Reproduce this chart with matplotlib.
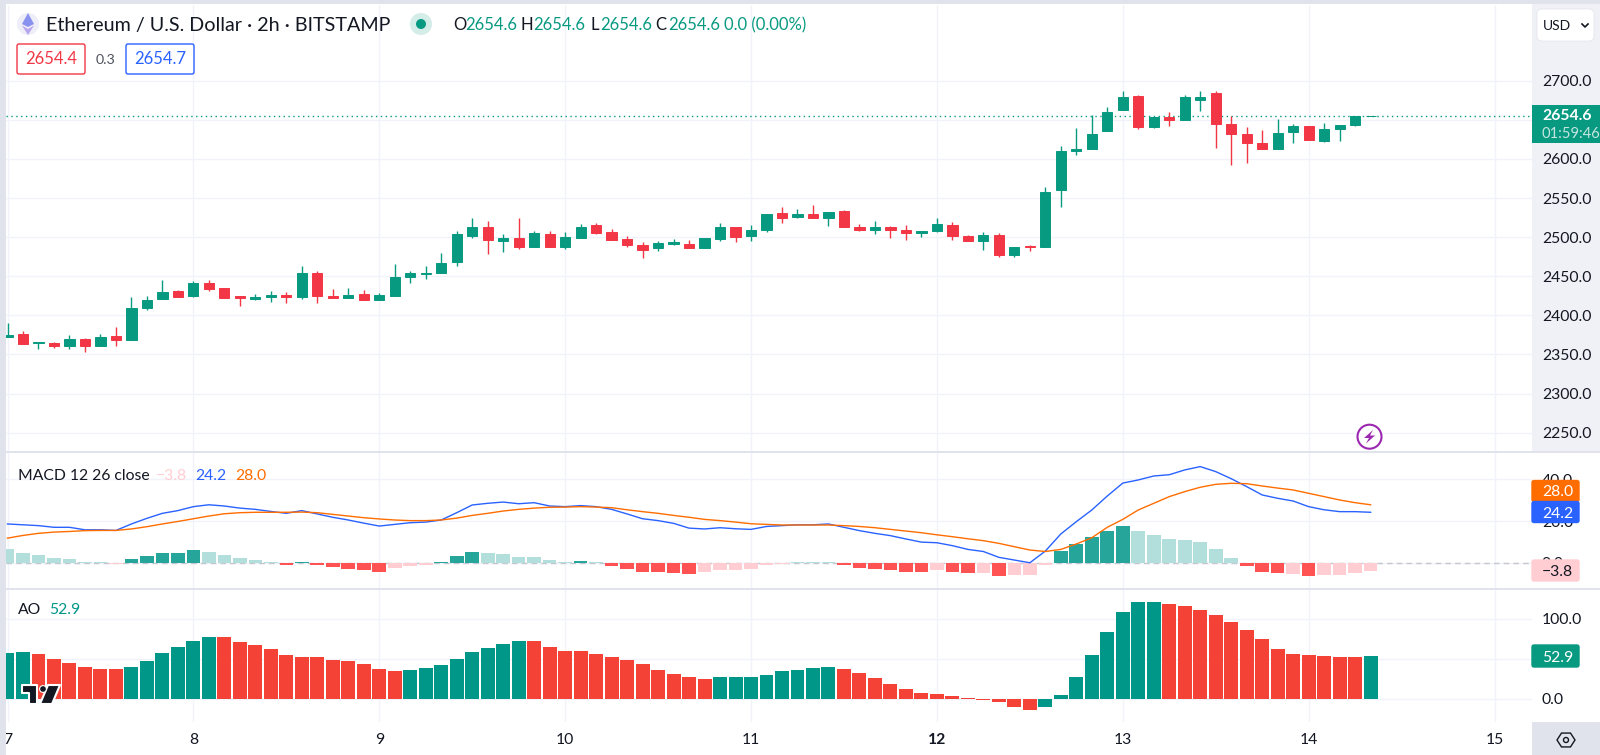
import matplotlib
matplotlib.use("Agg")
import matplotlib.pyplot as plt
import numpy as np
from matplotlib.patches import Rectangle, Circle, Polygon, FancyBboxPatch

W, H = 1600, 755
plt.rcParams["font.family"] = ["Lato", "DejaVu Sans"]

GREEN = "#089981"
RED = "#f23645"
GRID = "#f0f3fa"
BORDER = "#e0e3eb"
TEXT = "#131722"

# ETH/USD 2h candles
opens = [2372.7, 2376.0, 2364.6, 2365.0, 2360.8, 2370.1, 2360.4, 2373.1, 2368.4, 2409.4,
         2420.9, 2431.1, 2424.7, 2440.9, 2434.5, 2424.3, 2420.4, 2423.4, 2425.6, 2423.0,
         2454.1, 2425.1, 2421.7, 2427.3, 2420.0, 2424.7, 2448.6, 2453.3, 2453.7, 2467.8,
         2501.4, 2513.4, 2495.0, 2498.9, 2486.9, 2504.4, 2487.3, 2499.2, 2515.9, 2506.1,
         2497.1, 2489.9, 2485.6, 2491.6, 2491.6, 2485.6, 2498.0, 2512.5, 2501.8, 2509.0,
         2530.4, 2525.7, 2529.5, 2524.4, 2532.9, 2513.3, 2509.5, 2512.5, 2509.0, 2504.8,
         2507.8, 2515.9, 2501.4, 2495.0, 2503.1, 2477.5, 2489.0, 2486.9, 2560.2, 2610.5,
         2613.1, 2635.7, 2663.0, 2680.0, 2641.2, 2653.2, 2649.3, 2675.8, 2683.9, 2644.2,
         2632.3, 2619.9, 2613.1, 2634.0, 2642.5, 2622.5, 2638.2, 2643.4, 2654.6]
highs = [2390.6, 2380.4, 2366.3, 2365.9, 2375.3, 2370.6, 2376.1, 2385.1, 2423.9, 2425.1,
         2444.7, 2432.8, 2443.9, 2444.7, 2434.9, 2424.3, 2427.3, 2430.7, 2429.8, 2463.5,
         2456.3, 2433.2, 2434.5, 2431.9, 2428.5, 2466.0, 2457.1, 2463.0, 2480.1, 2507.4,
         2525.0, 2520.2, 2504.0, 2525.0, 2507.8, 2507.8, 2506.9, 2516.7, 2517.6, 2509.9,
         2501.4, 2494.1, 2495.0, 2498.0, 2495.8, 2498.8, 2517.6, 2512.5, 2515.9, 2529.5,
         2538.5, 2535.9, 2541.0, 2532.1, 2534.6, 2516.7, 2520.6, 2513.7, 2515.0, 2508.2,
         2524.4, 2518.9, 2502.7, 2506.1, 2504.8, 2487.3, 2490.3, 2564.0, 2616.5, 2639.5,
         2655.7, 2666.8, 2686.4, 2681.3, 2653.2, 2660.0, 2682.2, 2687.3, 2687.3, 2654.4,
         2640.4, 2637.0, 2650.6, 2644.2, 2642.5, 2645.5, 2643.4, 2655.3, 2654.6]
lows = [2372.0, 2362.9, 2356.5, 2358.6, 2356.5, 2353.5, 2360.4, 2360.8, 2368.4, 2406.4,
        2420.9, 2423.0, 2423.4, 2431.1, 2422.6, 2411.9, 2420.0, 2417.5, 2416.2, 2421.3,
        2415.3, 2421.7, 2421.7, 2420.0, 2420.0, 2424.7, 2441.8, 2446.4, 2453.7, 2462.6,
        2498.9, 2478.0, 2480.5, 2485.2, 2486.9, 2486.9, 2485.2, 2499.2, 2503.9, 2496.7,
        2487.7, 2473.9, 2482.6, 2489.9, 2486.0, 2485.6, 2494.6, 2493.7, 2494.6, 2506.5,
        2517.6, 2524.0, 2524.8, 2514.6, 2512.9, 2507.3, 2503.5, 2499.2, 2496.3, 2499.7,
        2506.9, 2495.8, 2495.0, 2483.9, 2474.1, 2474.5, 2482.2, 2486.9, 2538.1, 2605.4,
        2613.1, 2635.7, 2663.0, 2638.2, 2639.5, 2642.1, 2649.3, 2661.7, 2613.9, 2592.2,
        2595.2, 2612.7, 2613.1, 2620.8, 2624.2, 2621.2, 2622.5, 2642.1, 2654.6]
closes = [2375.3, 2363.7, 2366.3, 2360.8, 2370.1, 2360.8, 2372.3, 2368.4, 2409.4, 2419.6,
          2430.2, 2423.9, 2441.3, 2433.2, 2422.6, 2422.6, 2423.9, 2426.0, 2423.0, 2454.1,
          2424.7, 2422.1, 2426.4, 2420.0, 2426.4, 2448.6, 2454.1, 2454.5, 2466.9, 2503.6,
          2513.4, 2495.9, 2498.9, 2487.0, 2505.2, 2486.9, 2500.1, 2512.9, 2505.6, 2496.7,
          2489.9, 2483.9, 2492.4, 2493.3, 2486.0, 2498.8, 2512.5, 2500.5, 2509.0, 2529.5,
          2524.8, 2529.5, 2524.8, 2532.1, 2512.9, 2509.5, 2512.9, 2509.0, 2504.8, 2508.2,
          2516.7, 2501.0, 2495.0, 2503.1, 2477.5, 2487.3, 2487.3, 2557.7, 2609.7, 2612.2,
          2632.3, 2660.0, 2679.2, 2641.2, 2653.2, 2649.3, 2679.2, 2679.6, 2645.1, 2632.3,
          2620.8, 2612.7, 2633.6, 2642.5, 2624.2, 2638.2, 2643.4, 2655.3, 2654.6]

macd_line = [18.6, 18.2, 17.8, 17.0, 17.0, 15.8, 15.8, 15.5, 18.6, 21.3, 23.7, 25.0, 26.9, 27.8, 27.2,
             26.2, 25.6, 24.6, 23.7, 25.0, 23.4, 21.8, 20.5, 19.0, 17.6, 18.4, 19.2, 19.5, 20.5, 24.0,
             27.7, 28.5, 29.1, 28.3, 28.8, 27.2, 26.9, 27.4, 26.9, 25.6, 23.4, 21.1, 20.2, 18.9, 16.6,
             16.2, 16.8, 16.3, 16.0, 17.4, 17.8, 18.2, 18.2, 18.6, 17.0, 15.4, 14.1, 13.0, 11.4, 9.9,
             9.6, 8.2, 6.4, 5.4, 2.6, 1.3, 0.0, 5.6, 13.8, 19.7, 25.3, 32.0, 38.2, 39.7, 41.6,
             42.2, 44.5, 46.1, 43.7, 40.3, 36.5, 32.5, 30.9, 29.6, 26.9, 25.4, 24.5, 24.5, 24.2]
signal_line = [11.8, 13.1, 14.1, 14.7, 15.0, 15.4, 15.5, 15.5, 16.2, 17.3, 18.6, 19.8, 21.1, 22.4, 23.5,
               24.0, 24.2, 24.2, 24.2, 24.3, 24.0, 23.2, 22.4, 21.6, 21.0, 20.5, 20.2, 20.2, 20.5, 21.4,
               22.7, 23.7, 24.8, 25.6, 26.2, 26.6, 26.7, 26.9, 26.7, 26.4, 25.4, 24.5, 23.7, 22.7, 21.8,
               20.8, 20.2, 19.5, 18.7, 18.4, 18.1, 18.1, 18.1, 18.1, 17.8, 17.4, 16.8, 16.0, 15.2, 14.4,
               13.4, 12.5, 11.5, 10.6, 9.3, 7.7, 6.1, 5.4, 6.4, 9.0, 12.0, 17.0, 20.8, 25.3, 28.5,
               31.7, 34.1, 36.2, 37.6, 38.1, 37.9, 36.8, 35.8, 34.9, 33.3, 31.7, 30.1, 28.8, 27.8]
macd_hist = [6.4, 4.8, 3.5, 2.1, 1.8, 0.5, 0.2, -0.5, 1.9, 3.4, 4.8, 4.8, 5.9, 5.1, 3.7,
             2.2, 1.1, 0.2, -1.0, 0.5, -1.1, -2.1, -2.9, -3.7, -4.2, -2.7, -1.6, -1.1, 0.3, 3.2,
             5.0, 4.8, 4.2, 2.7, 2.7, 1.3, 0.5, 0.8, 0.2, -1.4, -3.0, -4.2, -4.5, -4.8, -5.3,
             -4.6, -3.5, -3.5, -3.0, -1.3, -0.6, 0.3, 0.3, 0.3, -1.3, -2.4, -3.0, -3.5, -4.3, -4.3,
             -3.5, -4.5, -5.0, -4.8, -6.2, -5.9, -5.8, -1.0, 5.6, 9.1, 12.3, 15.2, 17.4, 15.2, 13.4,
             11.4, 11.0, 9.9, 6.4, 2.2, -1.6, -4.5, -5.1, -5.3, -6.4, -6.1, -5.9, -5.0, -3.8]
# g dark green, l light green, r dark red, p pale red
macd_hist_kind = list("lllllllp" "ggggg" "lllll" "rg" "rrrrr" "ppp" "ggg" "llllll" "g" "l"
                      "rrrrrr" "pppppp" "lll" "rrrrrr" "p" "rr" "p" "r" "ppp"
                      "ggggg" "lllllll" "rrr" "p" "r" "pppp")

ao_values = [56.7, 58.3, 56.3, 49.6, 44.6, 39.2, 36.7, 36.7, 40.0, 46.7, 56.7, 64.2, 72.5, 76.7, 76.7,
             70.4, 67.1, 61.7, 54.6, 52.5, 51.7, 48.8, 46.7, 43.8, 37.1, 34.6, 35.4, 37.9, 41.7, 50.0,
             58.3, 63.8, 68.3, 72.5, 71.7, 64.2, 60.0, 59.2, 55.8, 52.5, 48.8, 43.3, 35.8, 30.8, 26.7,
             24.2, 26.7, 27.5, 27.5, 30.0, 34.2, 35.4, 38.8, 39.6, 37.5, 31.7, 25.8, 18.3, 12.1, 6.7,
             6.3, 3.3, 0.8, -2.1, -4.6, -10.8, -14.6, -10.0, 4.6, 27.5, 54.6, 83.8, 108.3, 120.8, 120.8,
             118.3, 116.3, 110.8, 104.2, 95.4, 85.8, 74.2, 62.1, 55.4, 54.6, 53.3, 52.5, 51.7, 52.9]
ao_kind = list("gg" "rrrrrr" "gggggg" "rrrrrrrrrrrr" "gggggggg" "rrrrrrrrrrrr"
               "gggggggg" "rrrrrrrrrrrrr" "gggggggg" "rrrrrrrrrrrrr" "g")

day_labels = ["7", "8", "9", "10", "11", "12", "13", "14", "15"]
price_ticks = [2250, 2300, 2350, 2400, 2450, 2500, 2550, 2600, 2650, 2700]
macd_ticks = [0, 20, 40]
ao_ticks = [0, 50, 100]
last_price = 2654.6

x = np.arange(len(opens))
bars_per_day = 12
day_pos = [i * bars_per_day for i in range(len(day_labels))]

# bar 0 sits at px 7.5, bars are 15.49 px apart
x0_px, bar_px = 7.5, 15.49
left_px, right_px = 6, 1532
xlim = ((left_px - x0_px) / bar_px, (right_px - x0_px) / bar_px)


def pane(top, bottom):
    ax = fig.add_axes([left_px / W, 1 - bottom / H, (right_px - left_px) / W, (bottom - top) / H])
    ax.set_xlim(*xlim)
    ax.patch.set_alpha(0)
    for s in ax.spines.values():
        s.set_visible(False)
    ax.yaxis.tick_right()
    ax.tick_params(axis="both", length=0, labelsize=11.3, labelcolor=TEXT, pad=7.2)
    ax.set_xticks(day_pos)
    ax.set_xticklabels([])
    ax.grid(True, color=GRID, linewidth=1)
    ax.set_axisbelow(True)
    return ax


fig = plt.figure(figsize=(W / 100, H / 100), dpi=100, facecolor="white")

# backgrounds and borders live in pixel coordinates
bg = fig.add_axes([0, 0, 1, 1], zorder=-1)
bg.set_xlim(0, W)
bg.set_ylim(H, 0)
bg.axis("off")
bg.add_patch(Rectangle((1532, 0), 68, 452, color="#f0f1f6", lw=0))
bg.add_patch(Rectangle((1532, 722), 68, 33, color=BORDER, lw=0))

# price pane, the 2650 label sits under the price tag
ax1 = pane(5, 452)
ax1.set_ylim(2225.2, 2796.8)
ax1.set_yticks(price_ticks)
ax1.set_yticklabels(["" if t == 2650 else f"{t:.1f}" for t in price_ticks])
up = np.array(closes) >= np.array(opens)
colors = [GREEN if u else RED for u in up]
ax1.vlines(x, lows, highs, colors=colors, linewidth=1.0, zorder=3)
bottoms = np.minimum(opens, closes)
heights = np.abs(np.array(closes) - np.array(opens))
ax1.bar(x, heights, 0.66, bottom=bottoms, color=colors, edgecolor=colors, linewidth=0.7, zorder=4)
ax1.axhline(last_price, color=GREEN, linewidth=1, linestyle=(0, (1, 2.5)), zorder=2)

# MACD pane
ax2 = pane(452, 588)
ax2.set_ylim(-12.1, 53.1)
ax2.set_yticks(macd_ticks)
ax2.set_yticklabels([f"{t:.1f}" for t in macd_ticks])
hist_colors = {"g": "#26a69a", "l": "#b2dfdb", "r": "#ff5252", "p": "#ffcdd2"}
ax2.bar(x, macd_hist, 0.88, color=[hist_colors[k] for k in macd_hist_kind], zorder=3)
ax2.axhline(0, color="#c4c7cf", linewidth=1, linestyle=(0, (4, 3)), zorder=2)
ax2.plot(x, macd_line, color="#2962ff", linewidth=1, zorder=4)
ax2.plot(x, signal_line, color="#ff6d00", linewidth=1, zorder=5)

# AO pane
ax3 = pane(589, 722)
ax3.set_ylim(-29, 137)
ax3.set_yticks(ao_ticks)
ax3.set_yticklabels(["0.0", "", "100.0"])
ao_colors = {"g": "#009688", "r": "#f44336"}
ax3.bar(x, ao_values, 0.9, color=[ao_colors[k] for k in ao_kind], zorder=3)
ax3.set_xticklabels(day_labels)
ax3.tick_params(axis="x", pad=7.7, labelsize=11.3)
ax3.get_xticklabels()[5].set_fontweight("bold")

# overlay: legend text, tags, icons
ov = fig.add_axes([0, 0, 1, 1], zorder=10)
ov.set_xlim(0, W)
ov.set_ylim(H, 0)
ov.axis("off")
ov.patch.set_alpha(0)


def txt(px, py, s, color=TEXT, size=11.3, **kw):
    ov.text(px, py + 1.5, s, color=color, fontsize=size, va="center", ha=kw.pop("ha", "left"), **kw)


def tag(px, py, w, h, face, edge=None):
    ov.add_patch(FancyBboxPatch((px + 2, py + 2), w - 4, h - 4, boxstyle="round,pad=2,rounding_size=2",
                                facecolor=face, edgecolor=edge or face, linewidth=1))


ov.add_patch(Rectangle((0, 0), W, 4, color=BORDER, lw=0))
ov.add_patch(Rectangle((0, 0), 6, H, color=BORDER, lw=0))
ov.plot([6, 1600], [452, 452], color=BORDER, lw=1.4)
ov.plot([6, 1600], [588.5, 588.5], color=BORDER, lw=1.4)

# header
ov.add_patch(Circle((28, 24), 11, color="#eeeef8", lw=0))
ov.add_patch(Polygon([(28, 13), (34, 24), (28, 27), (22, 24)], color="#8a92f0", lw=0))
ov.add_patch(Polygon([(28, 29), (34, 25.5), (28, 35), (22, 25.5)], color="#b7a6ee", lw=0))
txt(46, 24, "Ethereum / U.S. Dollar · 2h · BITSTAMP", size=14.2)
ov.add_patch(Circle((421, 24), 11, color="#d5ede8", lw=0))
ov.add_patch(Circle((421, 24), 5, color=GREEN, lw=0))
for px, s in [(453, "O"), (521, "H"), (590, "L"), (655, "C")]:
    txt(px, 24, s, size=12)
for px in (465, 533, 600, 668):
    txt(px, 24, "2654.6", color=GREEN, size=12)
txt(724, 24, "0.0 (0.00%)", color=GREEN, size=12)

tag(17, 44, 68, 30, "white", RED)
txt(51, 58, "2654.4", color=RED, size=12, ha="center")
txt(96, 58, "0.3", color="#50535e", size=10.3)
tag(126, 44, 68, 30, "white", "#2962ff")
txt(160, 58, "2654.7", color="#2962ff", size=12, ha="center")

# currency button
ov.add_patch(FancyBboxPatch((1541, 13), 49, 24, boxstyle="round,pad=4,rounding_size=5",
                            facecolor="white", edgecolor=BORDER, linewidth=0.5))
txt(1543, 24, "USD", size=10)
ov.plot([1582, 1585, 1588], [24, 27, 24], color=TEXT, lw=1.2)

# price tag
ov.add_patch(Rectangle((1532, 105), 68, 38, color=GREEN, lw=0))
txt(1542, 115, "2654.6", color="white", size=11.3, fontweight="bold")
txt(1541, 132, "01:59:46", color="#c5e6df", size=10.6)

# pane legends
txt(18, 474, "MACD 12 26 close", size=11.3)
txt(156, 474, "−3.8", color="#ffcdd2", size=11.3)
txt(195, 474, "24.2", color="#2962ff", size=11.3)
txt(235, 474, "28.0", color="#ff6d00", size=11.3)
txt(18, 609, "AO", size=11.3)
txt(49, 609, "52.9", color="#009688", size=11.3)

# right side value tags
for py, h, face, col, s in [(480.5, 21, "#ff6d00", "white", "28.0"),
                            (501.5, 21, "#2962ff", "white", "24.2"),
                            (560, 21, "#ffcdd2", TEXT, "−3.8"),
                            (645, 22, "#089981", "white", "52.9")]:
    tag(1532, py, 47, h, face)
    txt(1542, py + h / 2, s, color=col, size=11.3)

# lightning badge
ov.add_patch(Circle((1369.5, 436.7), 12, facecolor="white", edgecolor="#9c27b0", linewidth=1.5))
ov.add_patch(Polygon([(1373, 430), (1364, 438), (1369, 438), (1366, 443.5), (1375, 435.5), (1370, 435.5)],
                     color="#9c27b0", lw=0))

# TV logo
for pts in ([(22, 685), (37, 685), (37, 704), (29, 704), (29, 693), (22, 693)],
            [(48, 685), (60, 685), (52, 704), (40, 704)]):
    ov.add_patch(Polygon(pts, facecolor="#131722", edgecolor="white", linewidth=1.5, joinstyle="round"))
ov.add_patch(Circle((43, 689), 3.4, facecolor="#131722", edgecolor="white", linewidth=0.8))

# settings hexagon
ang = np.radians([0, 60, 120, 180, 240, 300])
ov.add_patch(Polygon(np.c_[1566 + 9 * np.cos(ang), 740 + 8 * np.sin(ang)], fill=False, edgecolor=TEXT, lw=1))
ov.add_patch(Circle((1566, 740), 2.5, fill=False, edgecolor=TEXT, lw=1))

plt.savefig("out.png", dpi=100)
